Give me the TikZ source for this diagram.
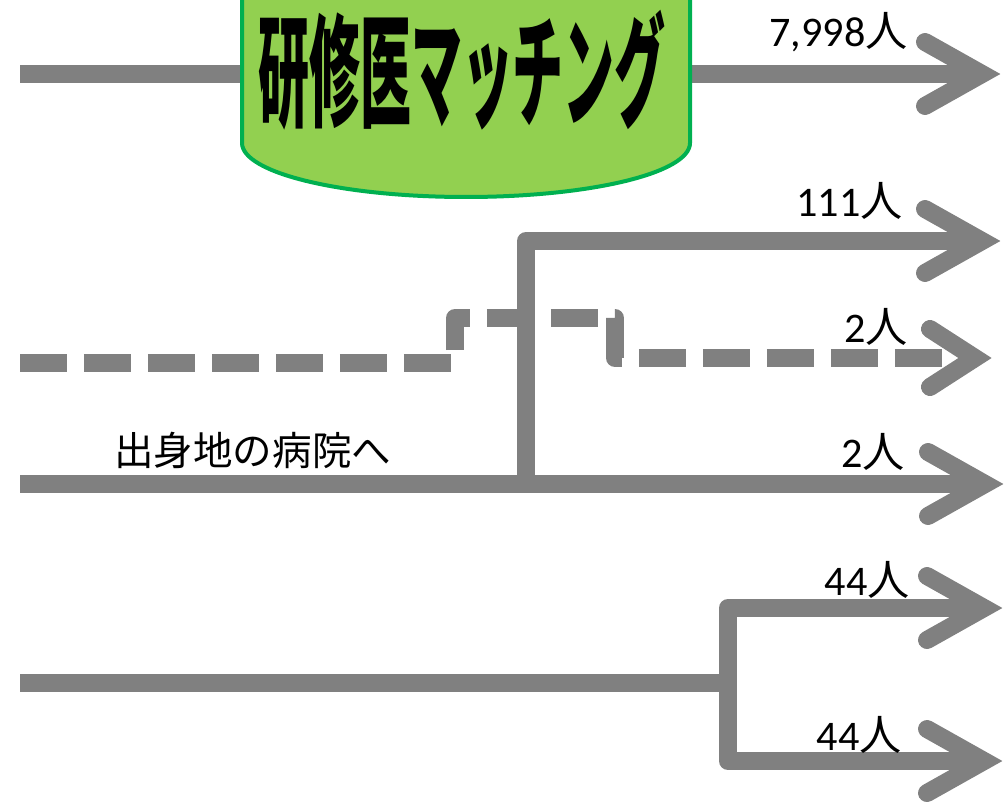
\documentclass[tikz,border=0pt]{standalone}
\usepackage{fontspec}
\setmainfont{Carlito}
\newfontfamily\jp{Noto Sans CJK JP}
\definecolor{flowgray}{HTML}{808080}
\definecolor{matchfill}{HTML}{92D050}
\definecolor{matchedge}{HTML}{00B050}
\tikzset{
  flow/.style={draw=flowgray,line width=0.36cm},
  flowdash/.style={flow,dash pattern=on 0.94cm off 0.34cm,line join=round},
  count/.style={anchor=base east,inner sep=0pt,font=\fontsize{24pt}{24pt}\selectfont},
  pics/chev/.style args={#1/#2}{code={\draw[flow,line cap=round,line join=miter] (-#1,-#2) -- (0,0) -- (-#1,#2);}}
}
\begin{document}
\begin{tikzpicture}[x={(0.02cm,0)},y={(0,-0.02cm)}]
\useasboundingbox (0,0) rectangle (1006,807);
\coordinate (inA) at (20,74);   \coordinate (tipA) at (982,74);
\coordinate (brB) at (526,241); \coordinate (tipB) at (982,241);
\coordinate (inC) at (20,484);  \coordinate (joinC) at (526,484); \coordinate (tipC) at (985,484);
\coordinate (inD) at (20,363);  \coordinate (endD) at (942,358);  \coordinate (tipD) at (975,358);
\coordinate (inE) at (20,683);  \coordinate (joinE) at (728,683);
\coordinate (tipF) at (984,608); \coordinate (tipG) at (984,761);
% matching row
\draw[flow] (inA) -- (tipA);
\filldraw[fill=matchfill,draw=matchedge,line width=0.08cm] (242,-20) -- (242,143) .. controls (242,173) and (342,197) .. (466,197) .. controls (590,197) and (690,173) .. (690,143) -- (690,-20) -- cycle;
\node[font=\jp\bfseries\fontsize{29pt}{29pt}\selectfont] (match) at (462,70) {\scalebox{1}[2.4]{研修医マッチング}};
% home region rows
\draw[flowdash] (inD) -- (455,363) -- (455,318) -- (615,318) -- (615,358) -- (endD);
\draw[flow,line join=round] (joinC) -- (brB) -- (tipB);
\draw[flow] (inC) -- (tipC);
% split row
\draw[flow] (inE) -- (joinE);
\draw[flow,line join=round] (tipF) -- (728,608) -- (728,761) -- (tipG);
\foreach \t in {tipA,tipB,tipC,tipF,tipG}{\pic at (\t) {chev={57/32}};}
\pic at (tipD) {chev={45/29}};
\node[count] (nA) at (908,47) {7,998{\jp 人}};
\node[count] (nB) at (903,217) {111{\jp 人}};
\node[count] (nD) at (908,342) {2{\jp 人}};
\node[count] (nC) at (905,467) {2{\jp 人}};
\node[count] (nF) at (910,595) {44{\jp 人}};
\node[count] (nG) at (902,750) {44{\jp 人}};
\node[anchor=base west,inner sep=0pt,font=\jp\fontsize{22.5pt}{22.5pt}\selectfont] (home) at (114,465) {出身地の病院へ};
\end{tikzpicture}
\end{document}
